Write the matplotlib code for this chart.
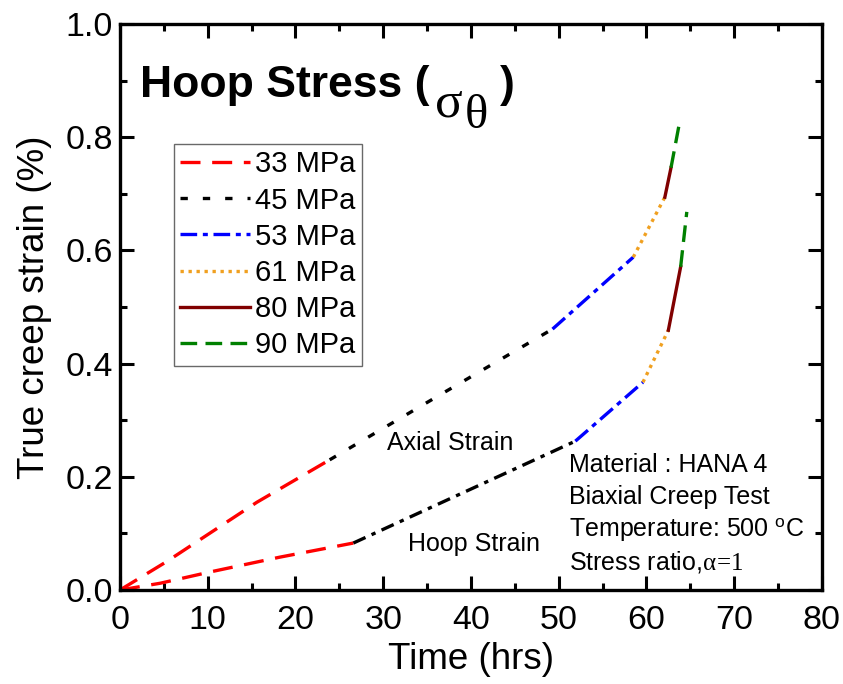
import matplotlib
matplotlib.use("Agg")
import matplotlib.pyplot as plt
from matplotlib.ticker import MultipleLocator, FormatStrFormatter

plt.rcParams['font.family'] = ['Liberation Sans', 'DejaVu Sans']
plt.rcParams['mathtext.fontset'] = 'custom'
plt.rcParams['mathtext.rm'] = 'Liberation Serif'
plt.rcParams['mathtext.it'] = 'Liberation Serif:italic'
plt.rcParams['mathtext.bf'] = 'Liberation Serif:bold'
plt.rcParams['mathtext.sf'] = 'Liberation Sans'

stresses = ["33 MPa", "45 MPa", "53 MPa", "61 MPa", "80 MPa", "90 MPa"]
colors = ["#ff0000", "#000000", "#0000ff", "#f0a020", "#800000", "#008000"]

# Axial strain segments (time in hrs, strain in %)
axial_t = [[0, 5.3, 15.6, 23.9], [23.9, 36.5, 49.3], [49.3, 58.5], [58.5, 62.1], [62.1, 62.8], [62.8, 63.7]]
axial_e = [[0, 0.05, 0.155, 0.23], [0.23, 0.345, 0.461], [0.461, 0.588], [0.588, 0.694], [0.694, 0.746], [0.746, 0.82]]

# Hoop strain segments
hoop_t = [[0, 4.6, 10.3, 18.2, 26.6], [26.6, 51.9], [51.9, 59.6], [59.6, 62.5], [62.5, 63.9], [63.9, 64.6]]
hoop_e = [[0, 0.012, 0.032, 0.058, 0.083], [0.083, 0.263], [0.263, 0.367], [0.367, 0.459], [0.459, 0.571], [0.571, 0.668]]

axial_styles = [(0, (6, 3.5)), (0, (2.2, 4.5)), (0, (5, 1.7, 1.5, 1.7)), (0, (1, 1.4)), '-', (0, (5, 2.5))]
hoop_styles = [(0, (6, 3.5)), (0, (4, 2, 1.3, 2)), (0, (5, 1.7, 1.5, 1.7)), (0, (1, 1.4)), '-', (0, (5, 2.5))]

fig = plt.figure(figsize=(8.43, 6.84), dpi=100)
ax = fig.add_axes([0.1423, 0.1374, 0.8327, 0.8276])

for i in range(len(stresses)):
    ax.plot(axial_t[i], axial_e[i], color=colors[i], linestyle=axial_styles[i], lw=2.4, label=stresses[i])
    ax.plot(hoop_t[i], hoop_e[i], color=colors[i], linestyle=hoop_styles[i], lw=2.4)

ax.set_xlim(0, 80)
ax.set_ylim(0, 1.0)
ax.xaxis.set_major_locator(MultipleLocator(10))
ax.xaxis.set_minor_locator(MultipleLocator(5))
ax.yaxis.set_major_locator(MultipleLocator(0.2))
ax.yaxis.set_minor_locator(MultipleLocator(0.1))
ax.tick_params(which='both', direction='in', top=True, right=True, width=2.2)
ax.tick_params(which='major', length=10, labelsize=24.5)
ax.tick_params(axis='x', which='major', pad=11)
ax.tick_params(axis='y', which='major', pad=5)
ax.tick_params(which='minor', length=5)
for s in ax.spines.values():
    s.set_linewidth(2.4)
ax.xaxis.set_major_formatter(FormatStrFormatter('%d'))
ax.yaxis.set_major_formatter(FormatStrFormatter('%.1f'))

ax.set_xlabel("Time (hrs)", fontsize=26.5, labelpad=4)
ax.set_ylabel("True creep strain (%)", fontsize=26.5, labelpad=10)

# Title made of pieces: bold sans text + serif Greek letters
ax.text(0.0285, 0.871, "Hoop Stress (", transform=ax.transAxes,
        fontsize=32, fontweight='bold', va='baseline', ha='left')
ax.text(0.4487, 0.8357, "σ", transform=ax.transAxes,
        fontsize=37, family=['Liberation Serif', 'DejaVu Serif'], va='baseline', ha='left')
ax.text(0.4915, 0.816, "θ", transform=ax.transAxes,
        fontsize=35, family=['Liberation Serif', 'DejaVu Serif'], va='baseline', ha='left')
ax.text(0.541, 0.871, ")", transform=ax.transAxes,
        fontsize=32, fontweight='bold', va='baseline', ha='left')

ax.text(0.380, 0.260, "Axial Strain", transform=ax.transAxes, fontsize=18, va='center')
ax.text(0.410, 0.082, "Hoop Strain", transform=ax.transAxes, fontsize=18, va='center')

info = ["Material : HANA 4", "Biaxial Creep Test", r"Temperature: 500 $^{\mathsf{o}}$C",
        r"Stress ratio,$\mathrm{α}\!{=}\!\mathrm{1}$"]
info_y = [0.220, 0.164, 0.106, 0.049]
for line, yy in zip(info, info_y):
    ax.text(0.640, yy, line, transform=ax.transAxes, fontsize=18, va='center')

leg = ax.legend(loc='upper left', bbox_to_anchor=(0.0769, 0.788), borderaxespad=0,
                fontsize=21, frameon=True, fancybox=False, edgecolor='#444444',
                handlelength=2.4, labelspacing=0.28, handletextpad=0.15, borderpad=0.22)
leg.get_frame().set_linewidth(1.0)

fig.savefig("out.png", dpi=100)
